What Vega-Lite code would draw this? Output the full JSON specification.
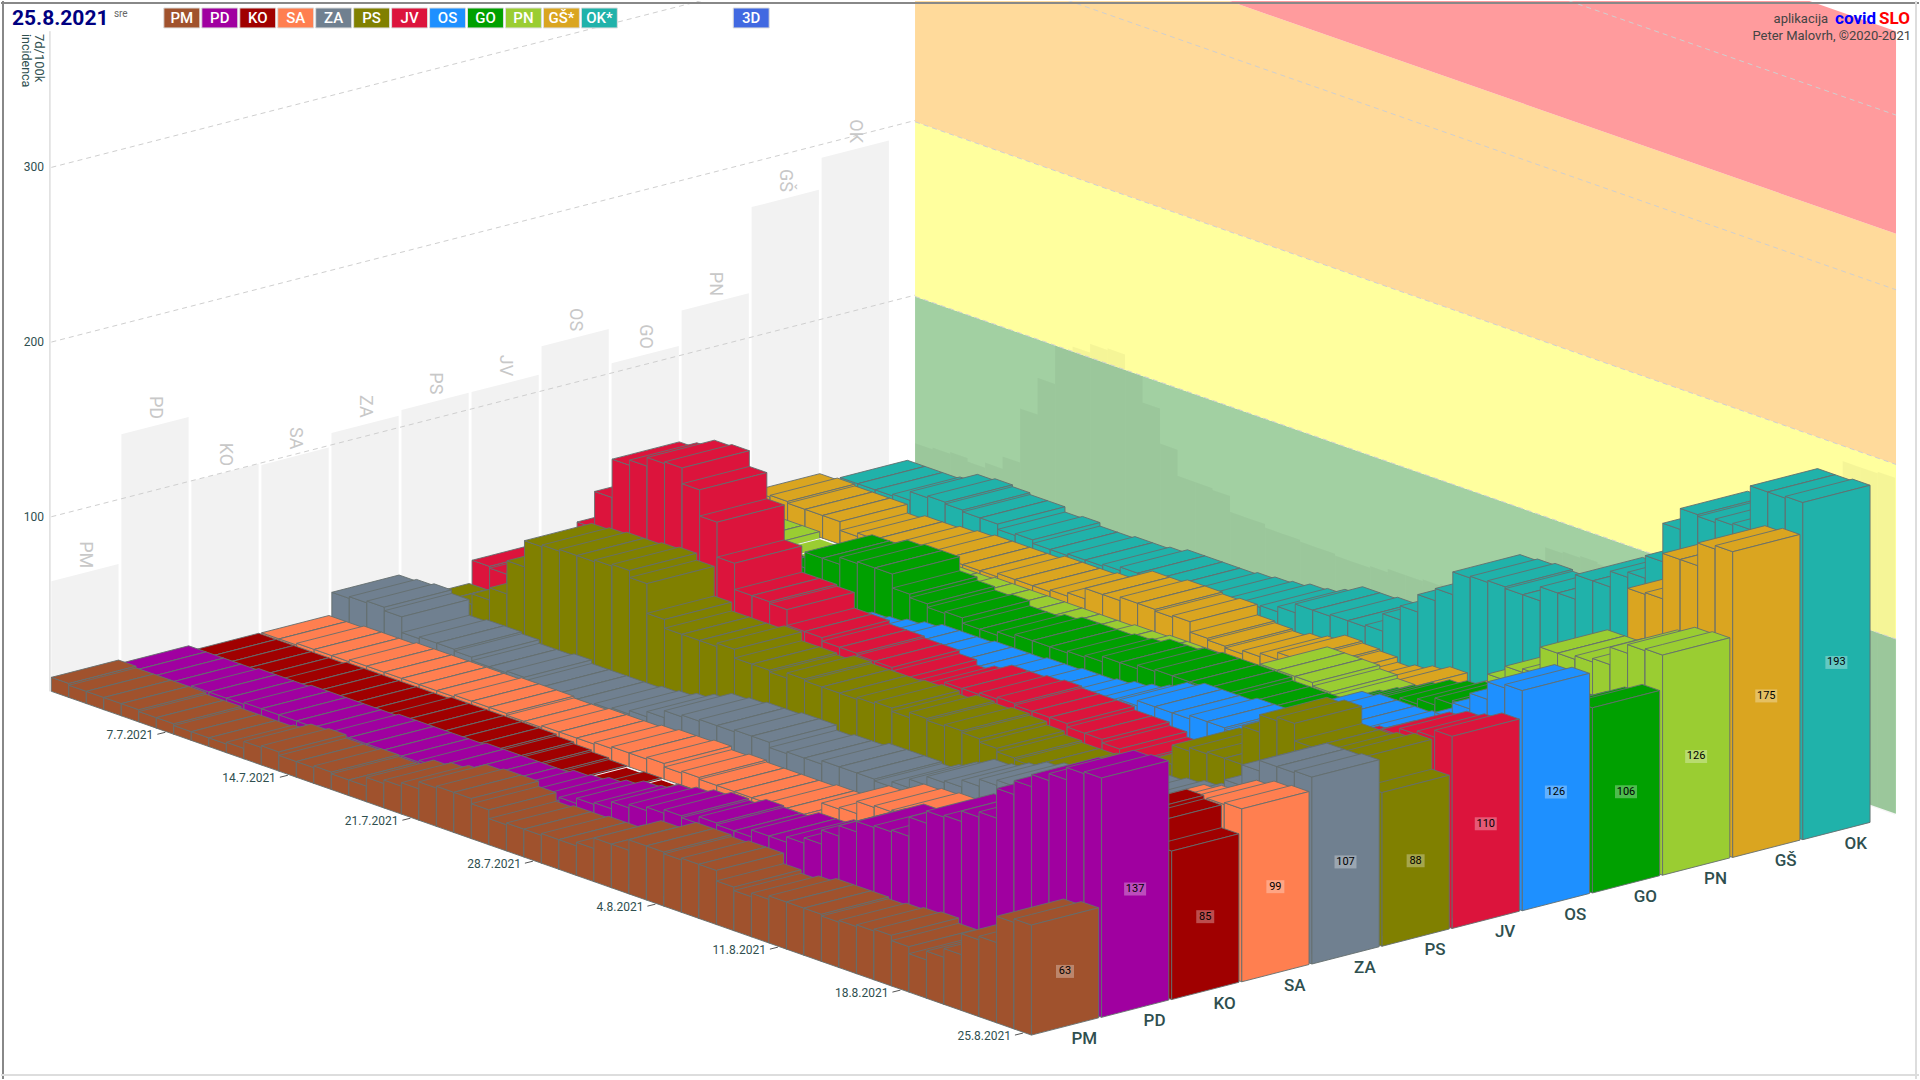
{"$schema":"https://vega.github.io/schema/vega-lite/v6.json","width":1920,"height":1080,"padding":0,"autosize":{"type":"fit","contains":"padding"},"background":"white","config":{"view":{"stroke":null},"font":"Roboto"},
"datasets":{"bars":[
{"r":"OK","d":1,"v":2},{"r":"OK","d":2,"v":14},{"r":"OK","d":3,"v":14},{"r":"OK","d":4,"v":14},{"r":"OK","d":5,"v":15},{"r":"OK","d":6,"v":20},{"r":"OK","d":7,"v":21},{"r":"OK","d":8,"v":20},{"r":"OK","d":9,"v":19},{"r":"OK","d":10,"v":19},{"r":"OK","d":11,"v":16},{"r":"OK","d":12,"v":17},{"r":"OK","d":13,"v":15},{"r":"OK","d":14,"v":15},{"r":"OK","d":15,"v":16},{"r":"OK","d":16,"v":16},{"r":"OK","d":17,"v":17},{"r":"OK","d":18,"v":19},{"r":"OK","d":19,"v":19},{"r":"OK","d":20,"v":19},{"r":"OK","d":21,"v":19},{"r":"OK","d":22,"v":20},{"r":"OK","d":23,"v":21},{"r":"OK","d":24,"v":22},{"r":"OK","d":25,"v":24},{"r":"OK","d":26,"v":25},{"r":"OK","d":27,"v":28},{"r":"OK","d":28,"v":33},{"r":"OK","d":29,"v":33},{"r":"OK","d":30,"v":34},{"r":"OK","d":31,"v":34},{"r":"OK","d":32,"v":35},{"r":"OK","d":33,"v":45},{"r":"OK","d":34,"v":53},{"r":"OK","d":35,"v":63},{"r":"OK","d":36,"v":70},{"r":"OK","d":37,"v":83},{"r":"OK","d":38,"v":84},{"r":"OK","d":39,"v":85},{"r":"OK","d":40,"v":84},{"r":"OK","d":41,"v":84},{"r":"OK","d":42,"v":92},{"r":"OK","d":43,"v":92},{"r":"OK","d":44,"v":106},{"r":"OK","d":45,"v":106},{"r":"OK","d":46,"v":115},{"r":"OK","d":47,"v":118},{"r":"OK","d":48,"v":131},{"r":"OK","d":49,"v":153},{"r":"OK","d":50,"v":165},{"r":"OK","d":51,"v":164},{"r":"OK","d":52,"v":166},{"r":"OK","d":53,"v":167},{"r":"OK","d":54,"v":192},{"r":"OK","d":55,"v":192},{"r":"OK","d":56,"v":193},
{"r":"GŠ","d":1,"v":13},{"r":"GŠ","d":2,"v":14},{"r":"GŠ","d":3,"v":13},{"r":"GŠ","d":4,"v":13},{"r":"GŠ","d":5,"v":13},{"r":"GŠ","d":6,"v":8},{"r":"GŠ","d":7,"v":10},{"r":"GŠ","d":8,"v":10},{"r":"GŠ","d":9,"v":11},{"r":"GŠ","d":10,"v":12},{"r":"GŠ","d":11,"v":13},{"r":"GŠ","d":12,"v":13},{"r":"GŠ","d":13,"v":13},{"r":"GŠ","d":14,"v":13},{"r":"GŠ","d":15,"v":15},{"r":"GŠ","d":16,"v":15},{"r":"GŠ","d":17,"v":15},{"r":"GŠ","d":18,"v":16},{"r":"GŠ","d":19,"v":18},{"r":"GŠ","d":20,"v":24},{"r":"GŠ","d":21,"v":24},{"r":"GŠ","d":22,"v":26},{"r":"GŠ","d":23,"v":26},{"r":"GŠ","d":24,"v":25},{"r":"GŠ","d":25,"v":26},{"r":"GŠ","d":26,"v":20},{"r":"GŠ","d":27,"v":19},{"r":"GŠ","d":28,"v":18},{"r":"GŠ","d":29,"v":20},{"r":"GŠ","d":30,"v":22},{"r":"GŠ","d":31,"v":26},{"r":"GŠ","d":32,"v":25},{"r":"GŠ","d":33,"v":24},{"r":"GŠ","d":34,"v":21},{"r":"GŠ","d":35,"v":23},{"r":"GŠ","d":36,"v":26},{"r":"GŠ","d":37,"v":29},{"r":"GŠ","d":38,"v":16},{"r":"GŠ","d":39,"v":20},{"r":"GŠ","d":40,"v":28},{"r":"GŠ","d":41,"v":40},{"r":"GŠ","d":42,"v":42},{"r":"GŠ","d":43,"v":42},{"r":"GŠ","d":44,"v":42},{"r":"GŠ","d":45,"v":45},{"r":"GŠ","d":46,"v":50},{"r":"GŠ","d":47,"v":55},{"r":"GŠ","d":48,"v":65},{"r":"GŠ","d":49,"v":75},{"r":"GŠ","d":50,"v":90},{"r":"GŠ","d":51,"v":133},{"r":"GŠ","d":52,"v":134},{"r":"GŠ","d":53,"v":160},{"r":"GŠ","d":54,"v":160},{"r":"GŠ","d":55,"v":173},{"r":"GŠ","d":56,"v":175},
{"r":"PN","d":1,"v":4},{"r":"PN","d":2,"v":4},{"r":"PN","d":3,"v":4},{"r":"PN","d":4,"v":4},{"r":"PN","d":5,"v":0},{"r":"PN","d":6,"v":0},{"r":"PN","d":7,"v":0},{"r":"PN","d":8,"v":4},{"r":"PN","d":9,"v":6},{"r":"PN","d":10,"v":8},{"r":"PN","d":11,"v":10},{"r":"PN","d":12,"v":12},{"r":"PN","d":13,"v":12},{"r":"PN","d":14,"v":12},{"r":"PN","d":15,"v":13},{"r":"PN","d":16,"v":13},{"r":"PN","d":17,"v":13},{"r":"PN","d":18,"v":13},{"r":"PN","d":19,"v":13},{"r":"PN","d":20,"v":13},{"r":"PN","d":21,"v":13},{"r":"PN","d":22,"v":13},{"r":"PN","d":23,"v":14},{"r":"PN","d":24,"v":14},{"r":"PN","d":25,"v":15},{"r":"PN","d":26,"v":15},{"r":"PN","d":27,"v":15},{"r":"PN","d":28,"v":15},{"r":"PN","d":29,"v":15},{"r":"PN","d":30,"v":15},{"r":"PN","d":31,"v":16},{"r":"PN","d":32,"v":18},{"r":"PN","d":33,"v":20},{"r":"PN","d":34,"v":40},{"r":"PN","d":35,"v":40},{"r":"PN","d":36,"v":40},{"r":"PN","d":37,"v":38},{"r":"PN","d":38,"v":36},{"r":"PN","d":39,"v":33},{"r":"PN","d":40,"v":20},{"r":"PN","d":41,"v":25},{"r":"PN","d":42,"v":30},{"r":"PN","d":43,"v":35},{"r":"PN","d":44,"v":40},{"r":"PN","d":45,"v":50},{"r":"PN","d":46,"v":60},{"r":"PN","d":47,"v":80},{"r":"PN","d":48,"v":88},{"r":"PN","d":49,"v":90},{"r":"PN","d":50,"v":106},{"r":"PN","d":51,"v":106},{"r":"PN","d":52,"v":108},{"r":"PN","d":53,"v":110},{"r":"PN","d":54,"v":120},{"r":"PN","d":55,"v":125},{"r":"PN","d":56,"v":126},
{"r":"GO","d":1,"v":8},{"r":"GO","d":2,"v":8},{"r":"GO","d":3,"v":8},{"r":"GO","d":4,"v":8},{"r":"GO","d":5,"v":8},{"r":"GO","d":6,"v":8},{"r":"GO","d":7,"v":9},{"r":"GO","d":8,"v":11},{"r":"GO","d":9,"v":16},{"r":"GO","d":10,"v":22},{"r":"GO","d":11,"v":28},{"r":"GO","d":12,"v":37},{"r":"GO","d":13,"v":37},{"r":"GO","d":14,"v":41},{"r":"GO","d":15,"v":42},{"r":"GO","d":16,"v":42},{"r":"GO","d":17,"v":34},{"r":"GO","d":18,"v":32},{"r":"GO","d":19,"v":30},{"r":"GO","d":20,"v":31},{"r":"GO","d":21,"v":28},{"r":"GO","d":22,"v":28},{"r":"GO","d":23,"v":30},{"r":"GO","d":24,"v":32},{"r":"GO","d":25,"v":32},{"r":"GO","d":26,"v":32},{"r":"GO","d":27,"v":33},{"r":"GO","d":28,"v":34},{"r":"GO","d":29,"v":37},{"r":"GO","d":30,"v":37},{"r":"GO","d":31,"v":39},{"r":"GO","d":32,"v":40},{"r":"GO","d":33,"v":40},{"r":"GO","d":34,"v":40},{"r":"GO","d":35,"v":40},{"r":"GO","d":36,"v":38},{"r":"GO","d":37,"v":38},{"r":"GO","d":38,"v":38},{"r":"GO","d":39,"v":38},{"r":"GO","d":40,"v":42},{"r":"GO","d":41,"v":50},{"r":"GO","d":42,"v":55},{"r":"GO","d":43,"v":60},{"r":"GO","d":44,"v":65},{"r":"GO","d":45,"v":70},{"r":"GO","d":46,"v":73},{"r":"GO","d":47,"v":76},{"r":"GO","d":48,"v":80},{"r":"GO","d":49,"v":82},{"r":"GO","d":50,"v":84},{"r":"GO","d":51,"v":86},{"r":"GO","d":52,"v":88},{"r":"GO","d":53,"v":90},{"r":"GO","d":54,"v":95},{"r":"GO","d":55,"v":101},{"r":"GO","d":56,"v":106},
{"r":"OS","d":1,"v":8},{"r":"OS","d":2,"v":8},{"r":"OS","d":3,"v":8},{"r":"OS","d":4,"v":8},{"r":"OS","d":5,"v":9},{"r":"OS","d":6,"v":9},{"r":"OS","d":7,"v":10},{"r":"OS","d":8,"v":10},{"r":"OS","d":9,"v":10},{"r":"OS","d":10,"v":11},{"r":"OS","d":11,"v":11},{"r":"OS","d":12,"v":12},{"r":"OS","d":13,"v":12},{"r":"OS","d":14,"v":13},{"r":"OS","d":15,"v":15},{"r":"OS","d":16,"v":17},{"r":"OS","d":17,"v":18},{"r":"OS","d":18,"v":20},{"r":"OS","d":19,"v":22},{"r":"OS","d":20,"v":24},{"r":"OS","d":21,"v":24},{"r":"OS","d":22,"v":24},{"r":"OS","d":23,"v":25},{"r":"OS","d":24,"v":25},{"r":"OS","d":25,"v":25},{"r":"OS","d":26,"v":26},{"r":"OS","d":27,"v":26},{"r":"OS","d":28,"v":27},{"r":"OS","d":29,"v":27},{"r":"OS","d":30,"v":28},{"r":"OS","d":31,"v":30},{"r":"OS","d":32,"v":32},{"r":"OS","d":33,"v":35},{"r":"OS","d":34,"v":40},{"r":"OS","d":35,"v":43},{"r":"OS","d":36,"v":43},{"r":"OS","d":37,"v":43},{"r":"OS","d":38,"v":45},{"r":"OS","d":39,"v":45},{"r":"OS","d":40,"v":44},{"r":"OS","d":41,"v":45},{"r":"OS","d":42,"v":50},{"r":"OS","d":43,"v":60},{"r":"OS","d":44,"v":70},{"r":"OS","d":45,"v":72},{"r":"OS","d":46,"v":72},{"r":"OS","d":47,"v":72},{"r":"OS","d":48,"v":73},{"r":"OS","d":49,"v":74},{"r":"OS","d":50,"v":78},{"r":"OS","d":51,"v":85},{"r":"OS","d":52,"v":96},{"r":"OS","d":53,"v":105},{"r":"OS","d":54,"v":114},{"r":"OS","d":55,"v":124},{"r":"OS","d":56,"v":126},
{"r":"JV","d":1,"v":14},{"r":"JV","d":2,"v":13},{"r":"JV","d":3,"v":15},{"r":"JV","d":4,"v":15},{"r":"JV","d":5,"v":16},{"r":"JV","d":6,"v":20},{"r":"JV","d":7,"v":57},{"r":"JV","d":8,"v":78},{"r":"JV","d":9,"v":100},{"r":"JV","d":10,"v":103},{"r":"JV","d":11,"v":108},{"r":"JV","d":12,"v":109},{"r":"JV","d":13,"v":100},{"r":"JV","d":14,"v":85},{"r":"JV","d":15,"v":65},{"r":"JV","d":16,"v":50},{"r":"JV","d":17,"v":50},{"r":"JV","d":18,"v":49},{"r":"JV","d":19,"v":40},{"r":"JV","d":20,"v":40},{"r":"JV","d":21,"v":38},{"r":"JV","d":22,"v":38},{"r":"JV","d":23,"v":37},{"r":"JV","d":24,"v":37},{"r":"JV","d":25,"v":35},{"r":"JV","d":26,"v":32},{"r":"JV","d":27,"v":35},{"r":"JV","d":28,"v":39},{"r":"JV","d":29,"v":39},{"r":"JV","d":30,"v":40},{"r":"JV","d":31,"v":41},{"r":"JV","d":32,"v":40},{"r":"JV","d":33,"v":40},{"r":"JV","d":34,"v":40},{"r":"JV","d":35,"v":38},{"r":"JV","d":36,"v":38},{"r":"JV","d":37,"v":36},{"r":"JV","d":38,"v":33},{"r":"JV","d":39,"v":32},{"r":"JV","d":40,"v":32},{"r":"JV","d":41,"v":33},{"r":"JV","d":42,"v":35},{"r":"JV","d":43,"v":38},{"r":"JV","d":44,"v":42},{"r":"JV","d":45,"v":48},{"r":"JV","d":46,"v":55},{"r":"JV","d":47,"v":60},{"r":"JV","d":48,"v":68},{"r":"JV","d":49,"v":78},{"r":"JV","d":50,"v":82},{"r":"JV","d":51,"v":88},{"r":"JV","d":52,"v":92},{"r":"JV","d":53,"v":100},{"r":"JV","d":54,"v":104},{"r":"JV","d":55,"v":106},{"r":"JV","d":56,"v":110},
{"r":"PS","d":1,"v":1},{"r":"PS","d":2,"v":0},{"r":"PS","d":3,"v":2},{"r":"PS","d":4,"v":13},{"r":"PS","d":5,"v":19},{"r":"PS","d":6,"v":26},{"r":"PS","d":7,"v":45},{"r":"PS","d":8,"v":60},{"r":"PS","d":9,"v":61},{"r":"PS","d":10,"v":62},{"r":"PS","d":11,"v":62},{"r":"PS","d":12,"v":63},{"r":"PS","d":13,"v":64},{"r":"PS","d":14,"v":60},{"r":"PS","d":15,"v":43},{"r":"PS","d":16,"v":38},{"r":"PS","d":17,"v":38},{"r":"PS","d":18,"v":38},{"r":"PS","d":19,"v":40},{"r":"PS","d":20,"v":35},{"r":"PS","d":21,"v":35},{"r":"PS","d":22,"v":34},{"r":"PS","d":23,"v":37},{"r":"PS","d":24,"v":36},{"r":"PS","d":25,"v":36},{"r":"PS","d":26,"v":36},{"r":"PS","d":27,"v":37},{"r":"PS","d":28,"v":38},{"r":"PS","d":29,"v":36},{"r":"PS","d":30,"v":39},{"r":"PS","d":31,"v":38},{"r":"PS","d":32,"v":39},{"r":"PS","d":33,"v":38},{"r":"PS","d":34,"v":36},{"r":"PS","d":35,"v":34},{"r":"PS","d":36,"v":33},{"r":"PS","d":37,"v":33},{"r":"PS","d":38,"v":34},{"r":"PS","d":39,"v":35},{"r":"PS","d":40,"v":37},{"r":"PS","d":41,"v":40},{"r":"PS","d":42,"v":45},{"r":"PS","d":43,"v":52},{"r":"PS","d":44,"v":62},{"r":"PS","d":45,"v":73},{"r":"PS","d":46,"v":75},{"r":"PS","d":47,"v":76},{"r":"PS","d":48,"v":76},{"r":"PS","d":49,"v":98},{"r":"PS","d":50,"v":108},{"r":"PS","d":51,"v":110},{"r":"PS","d":52,"v":100},{"r":"PS","d":53,"v":100},{"r":"PS","d":54,"v":102},{"r":"PS","d":55,"v":105},{"r":"PS","d":56,"v":88},
{"r":"ZA","d":1,"v":16},{"r":"ZA","d":2,"v":17},{"r":"ZA","d":3,"v":18},{"r":"ZA","d":4,"v":16},{"r":"ZA","d":5,"v":7},{"r":"ZA","d":6,"v":8},{"r":"ZA","d":7,"v":8},{"r":"ZA","d":8,"v":7},{"r":"ZA","d":9,"v":5},{"r":"ZA","d":10,"v":5},{"r":"ZA","d":11,"v":6},{"r":"ZA","d":12,"v":4},{"r":"ZA","d":13,"v":4},{"r":"ZA","d":14,"v":4},{"r":"ZA","d":15,"v":4},{"r":"ZA","d":16,"v":5},{"r":"ZA","d":17,"v":6},{"r":"ZA","d":18,"v":8},{"r":"ZA","d":19,"v":11},{"r":"ZA","d":20,"v":15},{"r":"ZA","d":21,"v":16},{"r":"ZA","d":22,"v":17},{"r":"ZA","d":23,"v":17},{"r":"ZA","d":24,"v":18},{"r":"ZA","d":25,"v":18},{"r":"ZA","d":26,"v":15},{"r":"ZA","d":27,"v":16},{"r":"ZA","d":28,"v":16},{"r":"ZA","d":29,"v":18},{"r":"ZA","d":30,"v":18},{"r":"ZA","d":31,"v":18},{"r":"ZA","d":32,"v":17},{"r":"ZA","d":33,"v":20},{"r":"ZA","d":34,"v":25},{"r":"ZA","d":35,"v":30},{"r":"ZA","d":36,"v":31},{"r":"ZA","d":37,"v":35},{"r":"ZA","d":38,"v":39},{"r":"ZA","d":39,"v":42},{"r":"ZA","d":40,"v":45},{"r":"ZA","d":41,"v":47},{"r":"ZA","d":42,"v":50},{"r":"ZA","d":43,"v":52},{"r":"ZA","d":44,"v":54},{"r":"ZA","d":45,"v":56},{"r":"ZA","d":46,"v":58},{"r":"ZA","d":47,"v":60},{"r":"ZA","d":48,"v":62},{"r":"ZA","d":49,"v":65},{"r":"ZA","d":50,"v":70},{"r":"ZA","d":51,"v":78},{"r":"ZA","d":52,"v":88},{"r":"ZA","d":53,"v":100},{"r":"ZA","d":54,"v":106},{"r":"ZA","d":55,"v":106},{"r":"ZA","d":56,"v":107},
{"r":"SA","d":1,"v":3},{"r":"SA","d":2,"v":3},{"r":"SA","d":3,"v":4},{"r":"SA","d":4,"v":4},{"r":"SA","d":5,"v":4},{"r":"SA","d":6,"v":5},{"r":"SA","d":7,"v":5},{"r":"SA","d":8,"v":5},{"r":"SA","d":9,"v":5},{"r":"SA","d":10,"v":5},{"r":"SA","d":11,"v":5},{"r":"SA","d":12,"v":6},{"r":"SA","d":13,"v":6},{"r":"SA","d":14,"v":6},{"r":"SA","d":15,"v":5},{"r":"SA","d":16,"v":5},{"r":"SA","d":17,"v":6},{"r":"SA","d":18,"v":6},{"r":"SA","d":19,"v":6},{"r":"SA","d":20,"v":7},{"r":"SA","d":21,"v":8},{"r":"SA","d":22,"v":8},{"r":"SA","d":23,"v":9},{"r":"SA","d":24,"v":7},{"r":"SA","d":25,"v":8},{"r":"SA","d":26,"v":7},{"r":"SA","d":27,"v":7},{"r":"SA","d":28,"v":7},{"r":"SA","d":29,"v":7},{"r":"SA","d":30,"v":8},{"r":"SA","d":31,"v":8},{"r":"SA","d":32,"v":8},{"r":"SA","d":33,"v":18},{"r":"SA","d":34,"v":19},{"r":"SA","d":35,"v":26},{"r":"SA","d":36,"v":27},{"r":"SA","d":37,"v":28},{"r":"SA","d":38,"v":28},{"r":"SA","d":39,"v":30},{"r":"SA","d":40,"v":33},{"r":"SA","d":41,"v":36},{"r":"SA","d":42,"v":38},{"r":"SA","d":43,"v":42},{"r":"SA","d":44,"v":45},{"r":"SA","d":45,"v":50},{"r":"SA","d":46,"v":55},{"r":"SA","d":47,"v":60},{"r":"SA","d":48,"v":65},{"r":"SA","d":49,"v":70},{"r":"SA","d":50,"v":75},{"r":"SA","d":51,"v":82},{"r":"SA","d":52,"v":85},{"r":"SA","d":53,"v":87},{"r":"SA","d":54,"v":95},{"r":"SA","d":55,"v":98},{"r":"SA","d":56,"v":99},
{"r":"KO","d":1,"v":3},{"r":"KO","d":2,"v":3},{"r":"KO","d":3,"v":3},{"r":"KO","d":4,"v":3},{"r":"KO","d":5,"v":3},{"r":"KO","d":6,"v":4},{"r":"KO","d":7,"v":4},{"r":"KO","d":8,"v":4},{"r":"KO","d":9,"v":4},{"r":"KO","d":10,"v":4},{"r":"KO","d":11,"v":4},{"r":"KO","d":12,"v":5},{"r":"KO","d":13,"v":5},{"r":"KO","d":14,"v":5},{"r":"KO","d":15,"v":5},{"r":"KO","d":16,"v":5},{"r":"KO","d":17,"v":5},{"r":"KO","d":18,"v":4},{"r":"KO","d":19,"v":3},{"r":"KO","d":20,"v":2},{"r":"KO","d":21,"v":1},{"r":"KO","d":22,"v":0},{"r":"KO","d":23,"v":1},{"r":"KO","d":24,"v":0},{"r":"KO","d":25,"v":1},{"r":"KO","d":26,"v":2},{"r":"KO","d":27,"v":3},{"r":"KO","d":28,"v":4},{"r":"KO","d":29,"v":5},{"r":"KO","d":30,"v":6},{"r":"KO","d":31,"v":7},{"r":"KO","d":32,"v":8},{"r":"KO","d":33,"v":9},{"r":"KO","d":34,"v":10},{"r":"KO","d":35,"v":11},{"r":"KO","d":36,"v":12},{"r":"KO","d":37,"v":13},{"r":"KO","d":38,"v":14},{"r":"KO","d":39,"v":15},{"r":"KO","d":40,"v":16},{"r":"KO","d":41,"v":18},{"r":"KO","d":42,"v":20},{"r":"KO","d":43,"v":22},{"r":"KO","d":44,"v":24},{"r":"KO","d":45,"v":26},{"r":"KO","d":46,"v":30},{"r":"KO","d":47,"v":35},{"r":"KO","d":48,"v":40},{"r":"KO","d":49,"v":50},{"r":"KO","d":50,"v":60},{"r":"KO","d":51,"v":70},{"r":"KO","d":52,"v":80},{"r":"KO","d":53,"v":90},{"r":"KO","d":54,"v":100},{"r":"KO","d":55,"v":98},{"r":"KO","d":56,"v":85},
{"r":"PD","d":1,"v":6},{"r":"PD","d":2,"v":6},{"r":"PD","d":3,"v":6},{"r":"PD","d":4,"v":6},{"r":"PD","d":5,"v":7},{"r":"PD","d":6,"v":7},{"r":"PD","d":7,"v":7},{"r":"PD","d":8,"v":8},{"r":"PD","d":9,"v":8},{"r":"PD","d":10,"v":8},{"r":"PD","d":11,"v":8},{"r":"PD","d":12,"v":8},{"r":"PD","d":13,"v":9},{"r":"PD","d":14,"v":9},{"r":"PD","d":15,"v":9},{"r":"PD","d":16,"v":9},{"r":"PD","d":17,"v":9},{"r":"PD","d":18,"v":10},{"r":"PD","d":19,"v":10},{"r":"PD","d":20,"v":10},{"r":"PD","d":21,"v":10},{"r":"PD","d":22,"v":10},{"r":"PD","d":23,"v":12},{"r":"PD","d":24,"v":13},{"r":"PD","d":25,"v":15},{"r":"PD","d":26,"v":17},{"r":"PD","d":27,"v":20},{"r":"PD","d":28,"v":21},{"r":"PD","d":29,"v":25},{"r":"PD","d":30,"v":27},{"r":"PD","d":31,"v":29},{"r":"PD","d":32,"v":31},{"r":"PD","d":33,"v":30},{"r":"PD","d":34,"v":34},{"r":"PD","d":35,"v":33},{"r":"PD","d":36,"v":33},{"r":"PD","d":37,"v":37},{"r":"PD","d":38,"v":37},{"r":"PD","d":39,"v":40},{"r":"PD","d":40,"v":43},{"r":"PD","d":41,"v":51},{"r":"PD","d":42,"v":57},{"r":"PD","d":43,"v":63},{"r":"PD","d":44,"v":64},{"r":"PD","d":45,"v":65},{"r":"PD","d":46,"v":76},{"r":"PD","d":47,"v":83},{"r":"PD","d":48,"v":84},{"r":"PD","d":49,"v":90},{"r":"PD","d":50,"v":93},{"r":"PD","d":51,"v":110},{"r":"PD","d":52,"v":118},{"r":"PD","d":53,"v":125},{"r":"PD","d":54,"v":129},{"r":"PD","d":55,"v":136},{"r":"PD","d":56,"v":137},
{"r":"PM","d":1,"v":8},{"r":"PM","d":2,"v":7},{"r":"PM","d":3,"v":7},{"r":"PM","d":4,"v":7},{"r":"PM","d":5,"v":7},{"r":"PM","d":6,"v":6},{"r":"PM","d":7,"v":6},{"r":"PM","d":8,"v":5},{"r":"PM","d":9,"v":5},{"r":"PM","d":10,"v":5},{"r":"PM","d":11,"v":6},{"r":"PM","d":12,"v":10},{"r":"PM","d":13,"v":11},{"r":"PM","d":14,"v":9},{"r":"PM","d":15,"v":9},{"r":"PM","d":16,"v":10},{"r":"PM","d":17,"v":9},{"r":"PM","d":18,"v":9},{"r":"PM","d":19,"v":14},{"r":"PM","d":20,"v":16},{"r":"PM","d":21,"v":18},{"r":"PM","d":22,"v":22},{"r":"PM","d":23,"v":23},{"r":"PM","d":24,"v":23},{"r":"PM","d":25,"v":20},{"r":"PM","d":26,"v":15},{"r":"PM","d":27,"v":16},{"r":"PM","d":28,"v":16},{"r":"PM","d":29,"v":17},{"r":"PM","d":30,"v":17},{"r":"PM","d":31,"v":19},{"r":"PM","d":32,"v":25},{"r":"PM","d":33,"v":25},{"r":"PM","d":34,"v":31},{"r":"PM","d":35,"v":31},{"r":"PM","d":36,"v":30},{"r":"PM","d":37,"v":31},{"r":"PM","d":38,"v":31},{"r":"PM","d":39,"v":25},{"r":"PM","d":40,"v":23},{"r":"PM","d":41,"v":25},{"r":"PM","d":42,"v":27},{"r":"PM","d":43,"v":27},{"r":"PM","d":44,"v":27},{"r":"PM","d":45,"v":26},{"r":"PM","d":46,"v":27},{"r":"PM","d":47,"v":28},{"r":"PM","d":48,"v":29},{"r":"PM","d":49,"v":26},{"r":"PM","d":50,"v":22},{"r":"PM","d":51,"v":27},{"r":"PM","d":52,"v":32},{"r":"PM","d":53,"v":44},{"r":"PM","d":54,"v":46},{"r":"PM","d":55,"v":61},{"r":"PM","d":56,"v":63}
]},
"encoding":{"x":{"field":"sx","type":"quantitative","scale":{"domain":[0,1920]},"axis":null},"y":{"field":"sy","type":"quantitative","stack":null,"scale":{"domain":[1080,0]},"axis":null},"fill":{"field":"c","type":"nominal","legend":null,"scale":{"domain":["PM","PD","KO","SA","ZA","PS","JV","OS","GO","PN","GŠ","OK","3D","zelena","rumena","oranžna","rdeča"],"range":["#A0522D","#A000A0","#A00000","#FF7F50","#708090","#808000","#DC143C","#1E90FF","#00A000","#9ACD32","#DAA520","#20B2AA","#4169E1","#A2D0A2","#FFFF9E","#FFDA9B","#FF9B9D"]}}},
"layer":[
{"data":{"values":[{"c":"zelena","lo":0,"hi":100},{"c":"rumena","lo":100,"hi":200},{"c":"oranžna","lo":200,"hi":332},{"c":"rdeča","lo":332,"hi":448}]},
"transform":[{"calculate":"[0,1]","as":"t"},{"flatten":["t"]},{"calculate":"915+982*datum.t","as":"sx"},{"calculate":"471+343.3*datum.t-1.75*datum.hi","as":"sy"},{"calculate":"471+343.3*datum.t-1.75*datum.lo","as":"sy2"}],
"mark":{"type":"area","clip":true},"encoding":{"y2":{"field":"sy2"}}},
{"data":{"name":"bars"},"transform":[{"aggregate":[{"op":"max","field":"v","as":"m"}],"groupby":["r"]},{"calculate":"indexof(['PM','PD','KO','SA','ZA','PS','JV','OS','GO','PN','GŠ','OK'],datum.r)","as":"i"},{"calculate":"[0,1]","as":"t"},{"flatten":["t"]},{"calculate":"50.4+70.1*datum.i+67.3*datum.t","as":"sx"},{"calculate":"691.7-17.9*datum.i-17.3*datum.t","as":"sy2"},{"calculate":"datum.sy2-1.75*datum.m","as":"sy"}],
"mark":{"type":"area","fill":"#F2F2F2"},"encoding":{"fill":{"value":"#F2F2F2"},"detail":{"field":"r"},"y2":{"field":"sy2"}}},
{"data":{"name":"bars"},"transform":[{"aggregate":[{"op":"max","field":"v","as":"m"}],"groupby":["r"]},{"calculate":"indexof(['PM','PD','KO','SA','ZA','PS','JV','OS','GO','PN','GŠ','OK'],datum.r)","as":"i"},{"calculate":"84+70.1*datum.i","as":"sx"},{"calculate":"685-17.9*datum.i-1.75*datum.m-20","as":"sy"}],
"mark":{"type":"text","angle":90,"fontSize":18,"align":"center","baseline":"middle"},"encoding":{"fill":{"value":"#C8C8C8"},"text":{"field":"r"}}},
{"data":{"name":"bars"},"transform":[{"aggregate":[{"op":"max","field":"v","as":"m"}],"groupby":["d"]},{"calculate":"[0,1]","as":"t"},{"flatten":["t"]},{"calculate":"915+17.52*(datum.d-1+datum.t)","as":"sx"},{"calculate":"471+6.15*(datum.d-1+datum.t)","as":"sy2"},{"calculate":"datum.sy2-1.75*datum.m","as":"sy"}],
"mark":{"type":"area","opacity":0.04},"encoding":{"fill":{"value":"#000000"},"detail":{"field":"d"},"y2":{"field":"sy2"}}},
{"data":{"values":[{"s":"L","l":100},{"s":"L","l":200},{"s":"L","l":300},{"s":"L","l":400},{"s":"R","l":100},{"s":"R","l":200},{"s":"R","l":300},{"s":"R","l":400}]},
"transform":[{"calculate":"[0,1]","as":"t"},{"flatten":["t"]},{"calculate":"datum.s=='L'?50.4+864.6*datum.t:915+982*datum.t","as":"sx"},{"calculate":"(datum.s=='L'?691.7-222*datum.t:471+343.3*datum.t)-1.75*datum.l","as":"sy"},{"calculate":"datum.s+datum.l","as":"g"}],
"mark":{"type":"line","clip":true,"color":"#CFCFCF","strokeWidth":1,"strokeDash":[5,4]},"encoding":{"fill":{"value":null},"detail":{"field":"g"}}},
{"data":{"name":"bars"},"transform":[
{"calculate":"indexof(['PM','PD','KO','SA','ZA','PS','JV','OS','GO','PN','GŠ','OK'],datum.r)","as":"i"},{"calculate":"56-datum.d","as":"k"},{"calculate":"1031.5+70.2*datum.i-17.52*datum.k","as":"bx"},{"calculate":"1036-17.8*datum.i-6.15*datum.k","as":"by"},{"calculate":"datum.v*1.75","as":"h"},
{"calculate":"[0,1,2]","as":"face"},{"flatten":["face"]},{"calculate":"datum.face==1?[0,1,2,3]:[0,1]","as":"t"},{"flatten":["t"]},
{"calculate":"datum.face==0?datum.bx-17.52*(1-datum.t):datum.face==2?datum.bx+67.3*datum.t:datum.bx+[-17.52,0,49.78,67.3][datum.t]","as":"sx"},
{"calculate":"datum.face==0?datum.by-datum.h-6.15*(1-datum.t):datum.face==2?datum.by-datum.h-17.3*datum.t:datum.by-datum.h+[-6.15,-10.65,-23.45,-17.3][datum.t]","as":"sy"},
{"calculate":"datum.face==0?datum.by-6.15*(1-datum.t):datum.face==2?datum.by-17.3*datum.t:datum.by-datum.h+[-6.15,0,-12.8,-17.3][datum.t]","as":"sy2"},
{"calculate":"datum.r+'-'+datum.d+'-'+datum.face","as":"pid"},{"calculate":"datum.r","as":"c"}],
"mark":{"type":"area","strokeWidth":0.9,"strokeOpacity":1},
"encoding":{"detail":{"field":"pid"},"y2":{"field":"sy2"},"stroke":{"condition":{"test":"datum.v==0","value":"#FFFFFF"},"value":"#646E6E"}}},
{"data":{"name":"bars"},"transform":[{"filter":"datum.d==56"},{"calculate":"indexof(['PM','PD','KO','SA','ZA','PS','JV','OS','GO','PN','GŠ','OK'],datum.r)","as":"i"},{"calculate":"1031.5+70.2*datum.i+33.6-(datum.v>99?11:9)","as":"sx"},{"calculate":"datum.sx+(datum.v>99?22:18)","as":"sx2"},{"calculate":"1036-17.8*datum.i-8.65-0.875*datum.v-6.5","as":"sy"},{"calculate":"datum.sy+13","as":"sy2"}],
"mark":{"type":"rect","opacity":0.3},"encoding":{"fill":{"value":"#FFFFFF"},"x2":{"field":"sx2"},"y2":{"field":"sy2"}}},
{"data":{"name":"bars"},"transform":[{"filter":"datum.d==56"},{"calculate":"indexof(['PM','PD','KO','SA','ZA','PS','JV','OS','GO','PN','GŠ','OK'],datum.r)","as":"i"},{"calculate":"1031.5+70.2*datum.i+33.6","as":"sx"},{"calculate":"1036-17.8*datum.i-8.65-0.875*datum.v","as":"sy"}],
"mark":{"type":"text","fontSize":11,"align":"center","baseline":"middle"},"encoding":{"fill":{"value":"#000000"},"text":{"field":"v"}}},
{"data":{"values":[{"r":"PM"},{"r":"PD"},{"r":"KO"},{"r":"SA"},{"r":"ZA"},{"r":"PS"},{"r":"JV"},{"r":"OS"},{"r":"GO"},{"r":"PN"},{"r":"GŠ"},{"r":"OK"}]},"transform":[{"calculate":"indexof(['PM','PD','KO','SA','ZA','PS','JV','OS','GO','PN','GŠ','OK'],datum.r)","as":"i"},{"calculate":"1084.5+70.2*datum.i","as":"sx"},{"calculate":"1040-17.8*datum.i","as":"sy"}],
"mark":{"type":"text","fontSize":17,"fontWeight":500,"align":"center","baseline":"middle"},"encoding":{"fill":{"value":"#2F4F4F"},"text":{"field":"r"}}},
{"data":{"values":[{"date":"7.7.2021","d":7},{"date":"14.7.2021","d":14},{"date":"21.7.2021","d":21},{"date":"28.7.2021","d":28},{"date":"4.8.2021","d":35},{"date":"11.8.2021","d":42},{"date":"18.8.2021","d":49},{"date":"25.8.2021","d":56}]},"transform":[{"calculate":"1011-17.52*(56-datum.d)","as":"sx"},{"calculate":"1037-6.15*(56-datum.d)","as":"sy"}],
"mark":{"type":"text","fontSize":12,"align":"right","baseline":"middle"},"encoding":{"fill":{"value":"#2F4F4F"},"text":{"field":"date"}}},
{"data":{"values":[{"d":7},{"d":14},{"d":21},{"d":28},{"d":35},{"d":42},{"d":49},{"d":56}]},"transform":[{"calculate":"1015-17.52*(56-datum.d)","as":"sx"},{"calculate":"datum.sx+8","as":"sx2"},{"calculate":"1036-6.15*(56-datum.d)","as":"sy"},{"calculate":"datum.sy-2","as":"sy2"}],
"mark":{"type":"rule","color":"#555555","strokeWidth":1},"encoding":{"fill":{"value":null},"x2":{"field":"sx2"},"y2":{"field":"sy2"}}},
{"data":{"values":[{"lo":0,"hi":378}]},"transform":[{"calculate":"49","as":"sx"},{"calculate":"691.7-1.75*datum.hi","as":"sy"},{"calculate":"691.7-1.75*datum.lo","as":"sy2"}],
"mark":{"type":"rule","color":"#CCCCCC","strokeWidth":1},"encoding":{"fill":{"value":null},"y2":{"field":"sy2"}}},
{"data":{"values":[{"l":100},{"l":200},{"l":300}]},"transform":[{"calculate":"43","as":"sx"},{"calculate":"691.7-1.75*datum.l","as":"sy"}],
"mark":{"type":"text","fontSize":12,"align":"right","baseline":"middle"},"encoding":{"fill":{"value":"#2F4F4F"},"text":{"field":"l"}}},
{"data":{"values":[{"c":"PM","t":"PM"},{"c":"PD","t":"PD"},{"c":"KO","t":"KO"},{"c":"SA","t":"SA"},{"c":"ZA","t":"ZA"},{"c":"PS","t":"PS"},{"c":"JV","t":"JV"},{"c":"OS","t":"OS"},{"c":"GO","t":"GO"},{"c":"PN","t":"PN"},{"c":"GŠ","t":"GŠ*"},{"c":"OK","t":"OK*"},{"c":"3D","t":"3D"}]},"transform":[{"calculate":"datum.c=='3D'?733:163+38*indexof(['PM','PD','KO','SA','ZA','PS','JV','OS','GO','PN','GŠ','OK'],datum.c)","as":"sx"},{"calculate":"datum.sx+36","as":"sx2"},{"calculate":"7","as":"sy"},{"calculate":"27","as":"sy2"}],
"mark":{"type":"rect","stroke":"#DDDDDD","strokeWidth":1},"encoding":{"x2":{"field":"sx2"},"y2":{"field":"sy2"}}},
{"data":{"values":[{"c":"PM","t":"PM"},{"c":"PD","t":"PD"},{"c":"KO","t":"KO"},{"c":"SA","t":"SA"},{"c":"ZA","t":"ZA"},{"c":"PS","t":"PS"},{"c":"JV","t":"JV"},{"c":"OS","t":"OS"},{"c":"GO","t":"GO"},{"c":"PN","t":"PN"},{"c":"GŠ","t":"GŠ*"},{"c":"OK","t":"OK*"},{"c":"3D","t":"3D"}]},"transform":[{"calculate":"datum.c=='3D'?751:181+38*indexof(['PM','PD','KO','SA','ZA','PS','JV','OS','GO','PN','GŠ','OK'],datum.c)","as":"sx"},{"calculate":"17","as":"sy"}],
"mark":{"type":"text","fontSize":15,"fontWeight":500,"align":"center","baseline":"middle"},"encoding":{"fill":{"value":"#FFFFFF"},"text":{"field":"t"}}},
{"data":{"values":[{"t":"25.8.2021","sx":11,"sy":18}]},"mark":{"type":"text","fontSize":21,"fontWeight":"bold","align":"left","baseline":"middle"},"encoding":{"fill":{"value":"#000080"},"text":{"field":"t"}}},
{"data":{"values":[{"t":"sre","sx":113,"sy":13}]},"mark":{"type":"text","fontSize":10,"align":"left","baseline":"middle"},"encoding":{"fill":{"value":"#666666"},"text":{"field":"t"}}},
{"data":{"values":[{"t":"7d/100k","sx":38,"sy":33}]},"mark":{"type":"text","fontSize":13,"angle":90,"align":"left","baseline":"middle"},"encoding":{"fill":{"value":"#2F4F4F"},"text":{"field":"t"}}},
{"data":{"values":[{"t":"incidenca","sx":25,"sy":33}]},"mark":{"type":"text","fontSize":12.5,"angle":90,"align":"left","baseline":"middle"},"encoding":{"fill":{"value":"#2F4F4F"},"text":{"field":"t"}}},
{"data":{"values":[{"t":"aplikacija","sx":1829,"sy":18}]},"mark":{"type":"text","fontSize":13,"align":"right","baseline":"middle"},"encoding":{"fill":{"value":"#444444"},"text":{"field":"t"}}},
{"data":{"values":[{"t":"covid","sx":1836,"sy":18}]},"mark":{"type":"text","fontSize":17,"fontWeight":"bold","align":"left","baseline":"middle"},"encoding":{"fill":{"value":"#0000FF"},"text":{"field":"t"}}},
{"data":{"values":[{"t":"SLO","sx":1880,"sy":18}]},"mark":{"type":"text","fontSize":17,"fontWeight":"bold","align":"left","baseline":"middle"},"encoding":{"fill":{"value":"#FF0000"},"text":{"field":"t"}}},
{"data":{"values":[{"t":"Peter Malovrh, ©2020-2021","sx":1912,"sy":35}]},"mark":{"type":"text","fontSize":13,"align":"right","baseline":"middle"},"encoding":{"fill":{"value":"#444444"},"text":{"field":"t"}}},
{"data":{"values":[{"side":"levo"},{"side":"zgoraj"}]},"transform":[{"calculate":"datum.side=='levo'?2:0","as":"sx"},{"calculate":"datum.side=='levo'?2:1920","as":"sx2"},{"calculate":"datum.side=='levo'?0:2","as":"sy"},{"calculate":"datum.side=='levo'?1080:2","as":"sy2"}],
"mark":{"type":"rule","color":"#888888","strokeWidth":2},"encoding":{"fill":{"value":null},"x2":{"field":"sx2"},"y2":{"field":"sy2"}}},
{"data":{"values":[{"side":"desno"},{"side":"spodaj"}]},"transform":[{"calculate":"datum.side=='desno'?1917:0","as":"sx"},{"calculate":"datum.side=='desno'?1917:1920","as":"sx2"},{"calculate":"datum.side=='desno'?0:1076","as":"sy"},{"calculate":"datum.side=='desno'?1080:1076","as":"sy2"}],
"mark":{"type":"rule","color":"#DDDDDD","strokeWidth":2},"encoding":{"fill":{"value":null},"x2":{"field":"sx2"},"y2":{"field":"sy2"}}}
]}
